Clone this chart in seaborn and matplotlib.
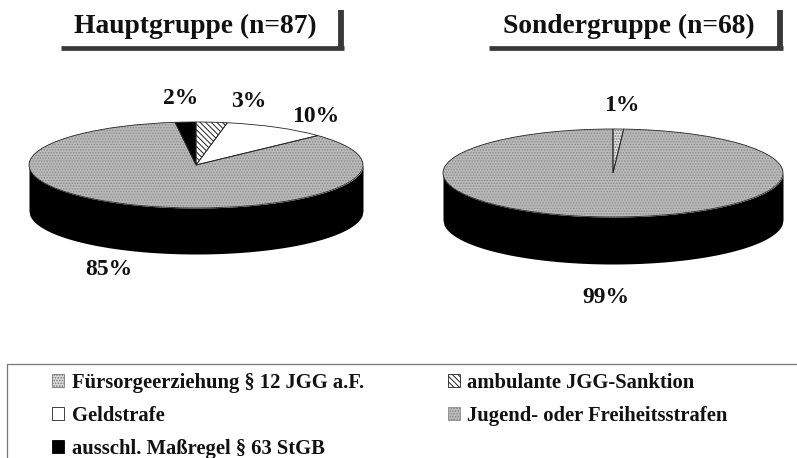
#!/bin/env python

import numpy as np
import seaborn as sns
import matplotlib

matplotlib.use("Agg")

import matplotlib.pyplot as plt
from matplotlib.patches import Patch

W, H = 797, 458

categories = [
    "Fürsorgeerziehung § 12 JGG a.F.",
    "ambulante JGG-Sanktion",
    "Geldstrafe",
    "Jugend- oder Freiheitsstrafen",
    "ausschl. Maßregel § 63 StGB",
]
haupt_values = [0, 3, 10, 85, 2]
sonder_values = [1, 0, 0, 99, 0]
titles = ["Hauptgruppe (n=87)", "Sondergruppe (n=68)"]

sns.set_theme(style="white")
plt.rcParams["font.family"] = ["Liberation Serif", "DejaVu Serif"]
plt.rcParams["hatch.linewidth"] = 0.7

# face, hatch, hatch colour per category
face = sns.color_palette(["#d8d8d8", "#ffffff", "#ffffff", "#b9b9b9", "#000000"])
hatches = ["......", "\\\\\\\\\\\\", None, "......", None]
hatch_col = ["#777777", "#222222", "#222222", "#8c8c8c", "#000000"]

fig = plt.figure(figsize=(W / 100, H / 100), dpi=100, facecolor="white")

# overlay in pixel coordinates for titles, labels and rules
over = fig.add_axes([0, 0, 1, 1], zorder=3)
over.set_xlim(0, W)
over.set_ylim(H, 0)
over.axis("off")


def draw_pie(values, cx, cy, a, b, depth):
    d = depth / b
    ax = fig.add_axes([(cx - a) / W, 1 - (cy + b + depth) / H, 2 * a / W, (2 * b + depth) / H])
    x = np.linspace(-1, 1, 400)
    y = -np.sqrt(1 - x**2)
    ax.fill_between(x, y, y - d, color="black", lw=0)
    idx = [i for i, v in enumerate(values) if v > 0]
    shown = [values[i] for i in idx]
    wedges, _ = ax.pie(
        shown,
        colors=[face[i] for i in idx],
        startangle=90,
        counterclock=False,
        radius=1,
    )
    for w, i in zip(wedges, idx):
        w.set_edgecolor(hatch_col[i])
        w.set_linewidth(0)
        if hatches[i]:
            w.set_hatch(hatches[i])
    # hatch colour follows the edge colour, so the outline is a second pass
    ax.pie(
        shown,
        colors=["none"] * len(shown),
        startangle=90,
        counterclock=False,
        radius=1,
        wedgeprops={"edgecolor": "#262626", "linewidth": 0.6, "fill": False},
    )
    ax.set_aspect("auto")
    ax.set_xlim(-1, 1)
    ax.set_ylim(-1 - d, 1)
    ax.axis("off")


draw_pie(haupt_values, 196, 165, 167, 43, 46)
draw_pie(sonder_values, 613, 173, 170, 44, 47)

# titles with their shadow rules
over.text(195.5, 33, titles[0], ha="center", va="baseline", fontsize=19.8, fontweight="bold", color="#111111")
over.text(628.5, 33, titles[1], ha="center", va="baseline", fontsize=19.8, fontweight="bold", color="#111111")
for x0, x1 in [(61, 344), (489, 783)]:
    over.plot([x0, x1], [47.5, 47.5], color="#383838", lw=3.4, solid_capstyle="butt")
    over.plot([x1 - 3, x1 - 3], [10, 50], color="#383838", lw=4.2, solid_capstyle="butt")

# percent labels
for v, px, py in [(2, 181, 104), (3, 249, 107), (10, 316, 122), (85, 108.5, 275)]:
    over.text(px, py, f"{v}%", ha="center", va="baseline", fontsize=17, fontweight="bold", color="#111111")
for v, px, py in [(1, 622, 111), (99, 606, 303)]:
    over.text(px, py, f"{v}%", ha="center", va="baseline", fontsize=17, fontweight="bold", color="#111111")

# legend frame is open on the right and bottom
over.plot([7, 7, W], [H, 363.5, 363.5], color="#777777", lw=0.9)

handles = [
    Patch(facecolor=face[i], edgecolor=hatch_col[i], linewidth=0.6, hatch=hatches[i])
    for i in range(len(categories))
]
order = [0, 2, 4, 1, 3]
fig.legend(
    [handles[i] for i in order],
    [categories[i] for i in order],
    ncol=2,
    loc="upper left",
    bbox_to_anchor=(52 / W, 1 - 373 / H),
    borderaxespad=0,
    borderpad=0,
    frameon=False,
    handlelength=0.58,
    handleheight=0.6,
    handletextpad=0.37,
    columnspacing=4.05,
    labelspacing=0.62,
    prop={"family": "Liberation Serif", "weight": "bold", "size": 14.9},
    labelcolor="#111111",
)

fig.savefig("out.png", dpi=100)
